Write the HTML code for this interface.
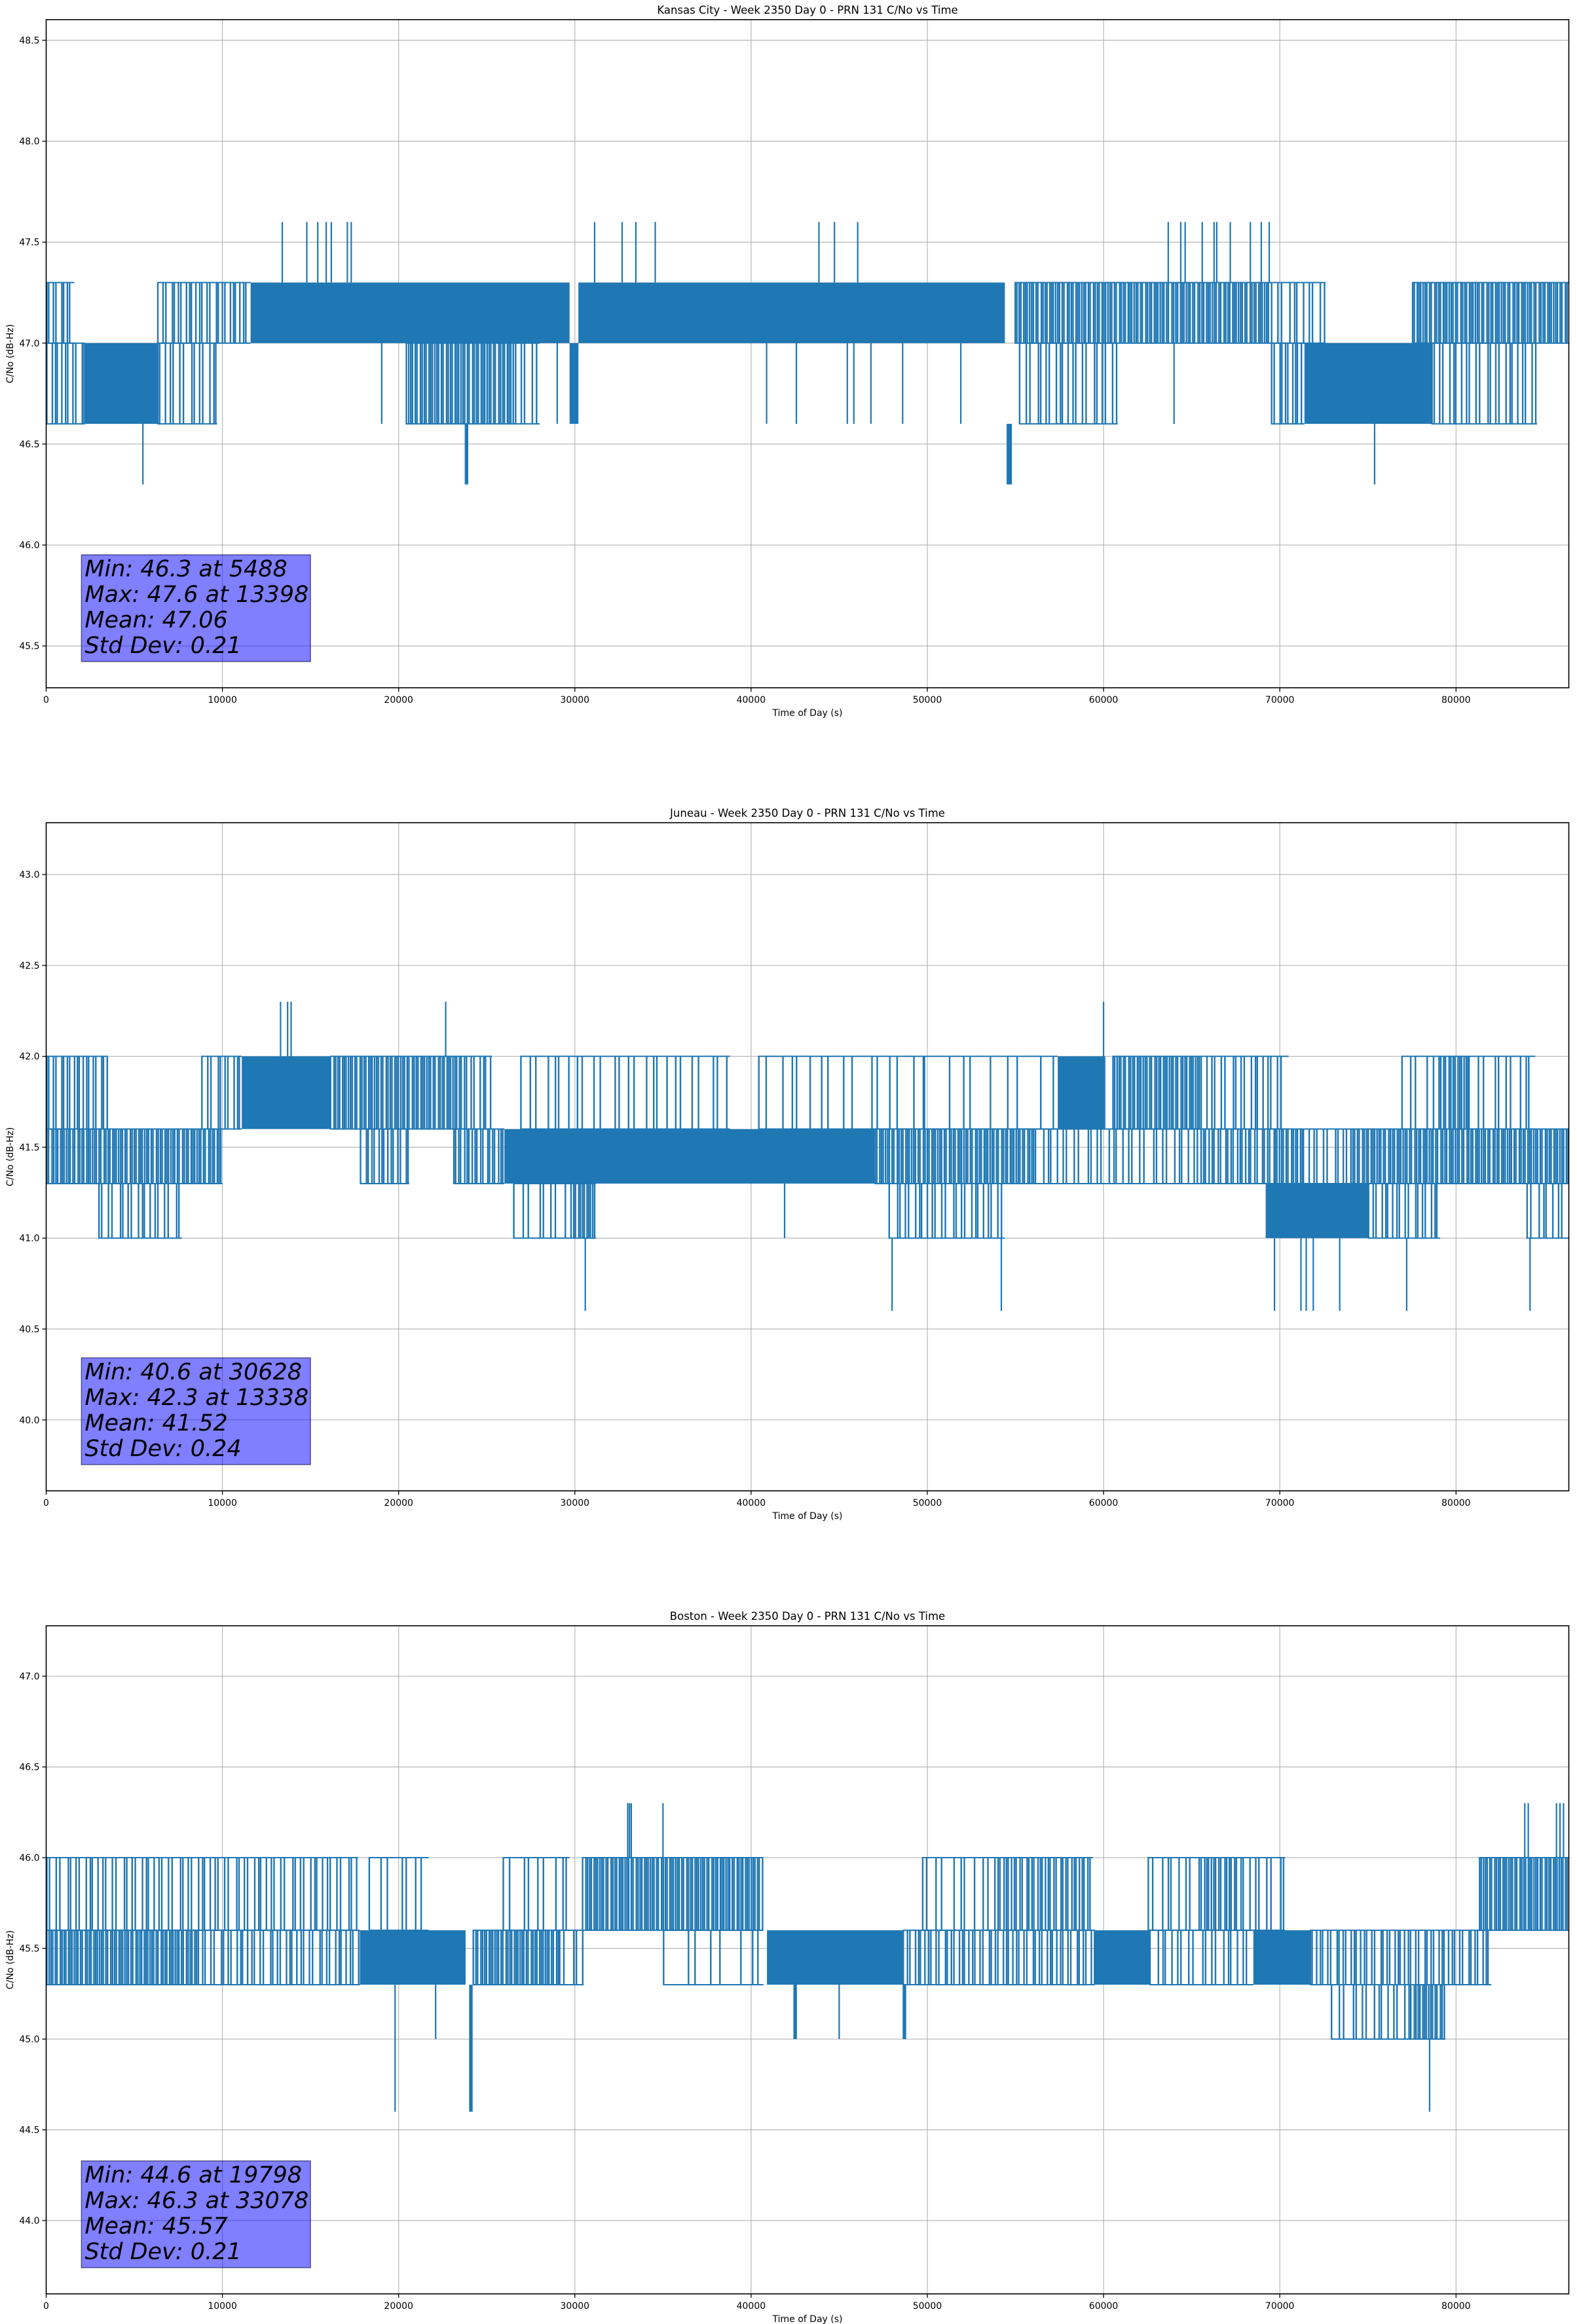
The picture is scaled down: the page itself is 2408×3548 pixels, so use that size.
<!DOCTYPE html>
<html>
<head>
<meta charset="utf-8">
<style>
  html,body{margin:0;padding:0;background:#fff;}
  svg{display:block;}
  text{font-family:"DejaVu Sans","Liberation Sans",sans-serif;fill:#000;}
</style>
</head>
<body>
<svg id="fig" width="2408" height="3548" viewBox="0 0 2408 3548" xmlns="http://www.w3.org/2000/svg">
  <rect x="0" y="0" width="2408" height="3548" fill="#fff"/>
</svg>
<script>
// ---------- Shared axis data ----------
const xTicks = [0, 10000, 20000, 30000, 40000, 50000, 60000, 70000, 80000];
const xMax = 86400;

// ---------- Kansas City ----------
const kcTitle = "Kansas City - Week 2350 Day 0 - PRN 131 C/No vs Time";
const kcYTicks = [45.5, 46.0, 46.5, 47.0, 47.5, 48.0, 48.5];
const kcYRange = [45.293, 48.602];
const kcBlockStart = [0, 6300, 11600, 30200, 54950, 69500, 77500, 0, 2200, 6300, 20400, 26600, 29700, 55200, 69500, 71400, 78600, 23750, 54500];
const kcBlockEnd = [1600, 11600, 29700, 54400, 69500, 72600, 86400, 2200, 6300, 9700, 26600, 28000, 30200, 60800, 71400, 78600, 84600, 23950, 54800];
const kcBlockLow = [47.0, 47.0, 47.0, 47.0, 47.0, 47.0, 47.0, 46.6, 46.6, 46.6, 46.6, 46.6, 46.6, 46.6, 46.6, 46.6, 46.6, 46.3, 46.3];
const kcBlockHigh = [47.3, 47.3, 47.3, 47.3, 47.3, 47.3, 47.3, 47.0, 47.0, 47.0, 47.0, 47.0, 47.0, 47.0, 47.0, 47.0, 47.0, 46.6, 46.6];
const kcBlockDensity = [0.5, 0.45, 0.95, 1, 0.85, 0.3, 0.85, 0.45, 0.95, 0.35, 0.85, 0.3, 1, 0.35, 0.5, 0.97, 0.35, 1, 1];
const kcSpikeTime = [13398, 14790, 15410, 15890, 16180, 17090, 17310, 31120, 32680, 33460, 34560, 43850, 44730, 46050, 63670, 64380, 64630, 65600, 66270, 66420, 67190, 68330, 68950, 69400, 19040, 29000, 40880, 42570, 45460, 45830, 46800, 48600, 51900, 64000, 5488, 75380];
const kcSpikeLow = [47.3, 47.3, 47.3, 47.3, 47.3, 47.3, 47.3, 47.3, 47.3, 47.3, 47.3, 47.3, 47.3, 47.3, 47.3, 47.3, 47.3, 47.3, 47.3, 47.3, 47.3, 47.3, 47.3, 47.3, 46.6, 46.6, 46.6, 46.6, 46.6, 46.6, 46.6, 46.6, 46.6, 46.6, 46.3, 46.3];
const kcSpikeHigh = [47.6, 47.6, 47.6, 47.6, 47.6, 47.6, 47.6, 47.6, 47.6, 47.6, 47.6, 47.6, 47.6, 47.6, 47.6, 47.6, 47.6, 47.6, 47.6, 47.6, 47.6, 47.6, 47.6, 47.6, 47.0, 47.0, 47.0, 47.0, 47.0, 47.0, 47.0, 47.0, 47.0, 47.0, 46.6, 46.6];
const kcStats = ["Min: 46.3 at 5488", "Max: 47.6 at 13398", "Mean: 47.06", "Std Dev: 0.21"];

// ---------- Juneau ----------
const junTitle = "Juneau - Week 2350 Day 0 - PRN 131 C/No vs Time";
const junYTicks = [40.0, 40.5, 41.0, 41.5, 42.0, 42.5, 43.0];
const junYRange = [39.61, 43.285];
const junBlockStart = [0, 8800, 11100, 16100, 23700, 26900, 40400, 49800, 57400, 60500, 65500, 76900, 79000, 80700, 0, 17800, 23100, 26000, 47000, 56100, 65500, 69700, 71300, 74000, 2960, 26500, 29900, 47800, 69200, 75000, 84000];
const junBlockEnd = [3500, 11100, 16100, 23700, 25300, 38800, 49800, 57400, 60100, 65500, 70500, 79000, 80700, 84500, 10000, 20600, 26000, 47000, 56100, 65500, 69700, 71300, 74000, 86400, 7700, 29900, 31200, 54400, 75000, 79100, 86400];
const junBlockLow = [41.6, 41.6, 41.6, 41.6, 41.6, 41.6, 41.6, 41.6, 41.6, 41.6, 41.6, 41.6, 41.6, 41.6, 41.3, 41.3, 41.3, 41.3, 41.3, 41.3, 41.3, 41.3, 41.3, 41.3, 41.0, 41.0, 41.0, 41.0, 41.0, 41.0, 41.0];
const junBlockHigh = [42.0, 42.0, 42.0, 42.0, 42.0, 42.0, 42.0, 42.0, 42.0, 42.0, 42.0, 42.0, 42.0, 42.0, 41.6, 41.6, 41.6, 41.6, 41.6, 41.6, 41.6, 41.6, 41.6, 41.6, 41.3, 41.3, 41.3, 41.3, 41.3, 41.3, 41.3];
const junBlockDensity = [0.5, 0.4, 1, 0.85, 0.4, 0.2, 0.15, 0.1, 1, 0.85, 0.35, 0.2, 0.8, 0.25, 0.85, 0.5, 0.6, 0.95, 0.85, 0.3, 0.55, 0.8, 0.35, 0.85, 0.35, 0.25, 0.9, 0.35, 0.95, 0.4, 0.3];
const junSpikeTime = [13300, 13700, 13900, 22670, 60000, 30590, 48000, 54200, 69700, 71200, 71500, 71900, 73400, 77200, 84200, 41900];
const junSpikeLow = [42.0, 42.0, 42.0, 42.0, 42.0, 40.6, 40.6, 40.6, 40.6, 40.6, 40.6, 40.6, 40.6, 40.6, 40.6, 41.0];
const junSpikeHigh = [42.3, 42.3, 42.3, 42.3, 42.3, 41.0, 41.0, 41.0, 41.0, 41.0, 41.0, 41.0, 41.0, 41.0, 41.0, 41.3];
const junStats = ["Min: 40.6 at 30628", "Max: 42.3 at 13338", "Mean: 41.52", "Std Dev: 0.24"];

// ---------- Boston ----------
const bosTitle = "Boston - Week 2350 Day 0 - PRN 131 C/No vs Time";
const bosYTicks = [44.0, 44.5, 45.0, 45.5, 46.0, 46.5, 47.0];
const bosYRange = [43.596, 47.278];
const bosBlockStart = [0, 18300, 25900, 30400, 49700, 53800, 62500, 65500, 67500, 81300, 0, 8600, 17800, 24200, 29100, 35000, 40900, 48600, 59500, 62600, 68500, 71700, 24000, 42400, 48600, 72900, 77300, 24000];
const bosBlockEnd = [17700, 21700, 29700, 40700, 53800, 59400, 65500, 67500, 70300, 86400, 8600, 17800, 23800, 29100, 30500, 40700, 48600, 59500, 62600, 68500, 71700, 82000, 24200, 42600, 48800, 77300, 79400, 24200];
const bosBlockLow = [45.6, 45.6, 45.6, 45.6, 45.6, 45.6, 45.6, 45.6, 45.6, 45.6, 45.3, 45.3, 45.3, 45.3, 45.3, 45.3, 45.3, 45.3, 45.3, 45.3, 45.3, 45.3, 45.0, 45.0, 45.0, 45.0, 45.0, 44.6];
const bosBlockHigh = [46.0, 46.0, 46.0, 46.0, 46.0, 46.0, 46.0, 46.0, 46.0, 46.0, 45.6, 45.6, 45.6, 45.6, 45.6, 45.6, 45.6, 45.6, 45.6, 45.6, 45.6, 45.6, 45.3, 45.3, 45.3, 45.3, 45.3, 45.0];
const bosBlockDensity = [0.35, 0.2, 0.2, 0.9, 0.2, 0.6, 0.25, 0.7, 0.3, 0.9, 0.9, 0.4, 0.95, 0.9, 0.3, 0.12, 0.95, 0.45, 0.95, 0.3, 0.95, 0.45, 1, 1, 1, 0.3, 0.85, 1];
const bosSpikeTime = [22100, 45000, 19798, 78500, 33000, 33100, 33200, 35000, 83900, 84100, 85700, 85900, 86100];
const bosSpikeLow = [45.0, 45.0, 44.6, 44.6, 46.0, 46.0, 46.0, 46.0, 46.0, 46.0, 46.0, 46.0, 46.0];
const bosSpikeHigh = [45.3, 45.3, 45.3, 45.0, 46.3, 46.3, 46.3, 46.3, 46.3, 46.3, 46.3, 46.3, 46.3];
const bosStats = ["Min: 44.6 at 19798", "Max: 46.3 at 33078", "Mean: 45.57", "Std Dev: 0.21"];

// ---------- Rendering ----------
const NS = "http://www.w3.org/2000/svg";
const svg = document.getElementById("fig");
const AX_LEFT = 70.5, AX_W = 2325, AX_H = 1020;
const LINE_COLOR = "#1f77b4";
const GAP_PATTERN = [0.6, 1.5, 0.8, 1.9, 0.5, 1.2, 0.7, 1.6, 0.9, 0.4, 1.3, 1.1];

function mk(tag, parent) {
  const el = document.createElementNS(NS, tag);
  parent.appendChild(el);
  return el;
}

function drawPlot(top, title, yTicks, yRange, bStart, bEnd, bLow, bHigh, bDens, sTime, sLow, sHigh, stats, key) {
  const g = mk("g", svg);
  
  
  const sx = v => AX_LEFT + v / xMax * AX_W;
  const sy = v => top + AX_H - (v - yRange[0]) / (yRange[1] - yRange[0]) * AX_H;

  const grid = mk("g", g);
  
  
  xTicks.forEach(t => {
    const l = mk("line", grid);
    l.setAttribute("x1", sx(t)); l.setAttribute("x2", sx(t));
    l.setAttribute("y1", top); l.setAttribute("y2", top + AX_H);
    l.setAttribute("stroke", "#b0b0b0"); l.setAttribute("stroke-width", "1.1");
  });
  yTicks.forEach(t => {
    const l = mk("line", grid);
    l.setAttribute("x1", AX_LEFT); l.setAttribute("x2", AX_LEFT + AX_W);
    l.setAttribute("y1", sy(t)); l.setAttribute("y2", sy(t));
    l.setAttribute("stroke", "#b0b0b0"); l.setAttribute("stroke-width", "1.1");
  });

  const data = mk("g", g);
  
  
  data.setAttribute("clip-path", "url(#clip-" + key + ")");
  const defs = mk("defs", g);
  const cp = mk("clipPath", defs);
  cp.setAttribute("id", "clip-" + key);
  const cr = mk("rect", cp);
  cr.setAttribute("x", AX_LEFT); cr.setAttribute("y", top);
  cr.setAttribute("width", AX_W); cr.setAttribute("height", AX_H);

  for (let i = 0; i < bStart.length; i++) {
    const x0 = sx(bStart[i]), x1 = sx(bEnd[i]);
    const y0 = sy(bHigh[i]), y1 = sy(bLow[i]);
    const d = bDens[i];
    if (d >= 0.95) {
      const r = mk("rect", data);
      
      
      r.setAttribute("x", x0); r.setAttribute("y", y0);
      r.setAttribute("width", Math.max(2, x1 - x0)); r.setAttribute("height", y1 - y0);
      r.setAttribute("fill", LINE_COLOR);
    } else {
      const base = 2.4 / d;
      let p = "";
      let k = i;
      for (let x = x0 + 1; x < x1; ) {
        p += "M" + x.toFixed(1) + " " + y0.toFixed(1) + "V" + y1.toFixed(1);
        x += Math.max(2.6, base * GAP_PATTERN[k % GAP_PATTERN.length]);
        k++;
      }
      const path = mk("path", data);
      
      
      path.setAttribute("d", p);
      path.setAttribute("stroke", LINE_COLOR);
      path.setAttribute("stroke-width", "2.4");
      path.setAttribute("fill", "none");
      const edge = mk("path", data);
      edge.setAttribute("d", "M" + x0 + " " + y0 + "H" + x1 + "M" + x0 + " " + y1 + "H" + x1);
      edge.setAttribute("stroke", LINE_COLOR);
      edge.setAttribute("stroke-width", "2");
    }
  }
  for (let i = 0; i < sTime.length; i++) {
    const l = mk("line", data);
    
    
    l.setAttribute("x1", sx(sTime[i])); l.setAttribute("x2", sx(sTime[i]));
    l.setAttribute("y1", sy(sLow[i])); l.setAttribute("y2", sy(sHigh[i]));
    l.setAttribute("stroke", LINE_COLOR); l.setAttribute("stroke-width", "2.2");
  }

  const box = mk("g", g);
  
  
  const br = mk("rect", box);
  br.setAttribute("x", sx(2000)); br.setAttribute("y", top + 817);
  br.setAttribute("width", sx(15000) - sx(2000)); br.setAttribute("height", 163);
  br.setAttribute("fill", "rgba(0,0,255,0.5)");
  br.setAttribute("stroke", "rgba(0,0,60,0.55)"); br.setAttribute("stroke-width", "1.5");
  stats.forEach((s, i) => {
    const t = mk("text", box);
    
    
    t.setAttribute("x", sx(2000) + 5); t.setAttribute("y", top + 850 + i * 39);
    t.setAttribute("font-size", "35"); t.setAttribute("font-style", "oblique");
    t.textContent = s;
  });

  const frame = mk("rect", g);
  
  
  frame.setAttribute("x", AX_LEFT); frame.setAttribute("y", top);
  frame.setAttribute("width", AX_W); frame.setAttribute("height", AX_H);
  frame.setAttribute("fill", "none"); frame.setAttribute("stroke", "#000"); frame.setAttribute("stroke-width", "1.6");

  xTicks.forEach(t => {
    const l = mk("line", g);
    l.setAttribute("x1", sx(t)); l.setAttribute("x2", sx(t));
    l.setAttribute("y1", top + AX_H); l.setAttribute("y2", top + AX_H + 6);
    l.setAttribute("stroke", "#000"); l.setAttribute("stroke-width", "1.3");
    const tx = mk("text", g);
    
    
    tx.setAttribute("x", sx(t)); tx.setAttribute("y", top + AX_H + 23);
    tx.setAttribute("font-size", "14"); tx.setAttribute("text-anchor", "middle");
    tx.textContent = String(t);
  });
  yTicks.forEach(t => {
    const l = mk("line", g);
    l.setAttribute("x1", AX_LEFT - 6); l.setAttribute("x2", AX_LEFT);
    l.setAttribute("y1", sy(t)); l.setAttribute("y2", sy(t));
    l.setAttribute("stroke", "#000"); l.setAttribute("stroke-width", "1.3");
    const tx = mk("text", g);
    
    
    tx.setAttribute("x", AX_LEFT - 10); tx.setAttribute("y", sy(t) + 5);
    tx.setAttribute("font-size", "14"); tx.setAttribute("text-anchor", "end");
    tx.textContent = t.toFixed(1);
  });

  const ti = mk("text", g);
  
  
  ti.setAttribute("x", AX_LEFT + AX_W / 2); ti.setAttribute("y", top - 9);
  ti.setAttribute("font-size", "16.5"); ti.setAttribute("text-anchor", "middle");
  ti.textContent = title;
  const xl = mk("text", g);
  
  
  xl.setAttribute("x", AX_LEFT + AX_W / 2); xl.setAttribute("y", top + AX_H + 43);
  xl.setAttribute("font-size", "14"); xl.setAttribute("text-anchor", "middle");
  xl.textContent = "Time of Day (s)";
  const yl = mk("text", g);
  
  
  yl.setAttribute("x", 0); yl.setAttribute("y", 0);
  yl.setAttribute("font-size", "14"); yl.setAttribute("text-anchor", "middle");
  yl.setAttribute("transform", "translate(20," + (top + AX_H / 2) + ") rotate(-90)");
  yl.textContent = "C/No (dB-Hz)";
}

drawPlot(30, kcTitle, kcYTicks, kcYRange, kcBlockStart, kcBlockEnd, kcBlockLow, kcBlockHigh, kcBlockDensity, kcSpikeTime, kcSpikeLow, kcSpikeHigh, kcStats, "kansas-city");
drawPlot(1256, junTitle, junYTicks, junYRange, junBlockStart, junBlockEnd, junBlockLow, junBlockHigh, junBlockDensity, junSpikeTime, junSpikeLow, junSpikeHigh, junStats, "juneau");
drawPlot(2482, bosTitle, bosYTicks, bosYRange, bosBlockStart, bosBlockEnd, bosBlockLow, bosBlockHigh, bosBlockDensity, bosSpikeTime, bosSpikeLow, bosSpikeHigh, bosStats, "boston");
</script>
</body>
</html>
